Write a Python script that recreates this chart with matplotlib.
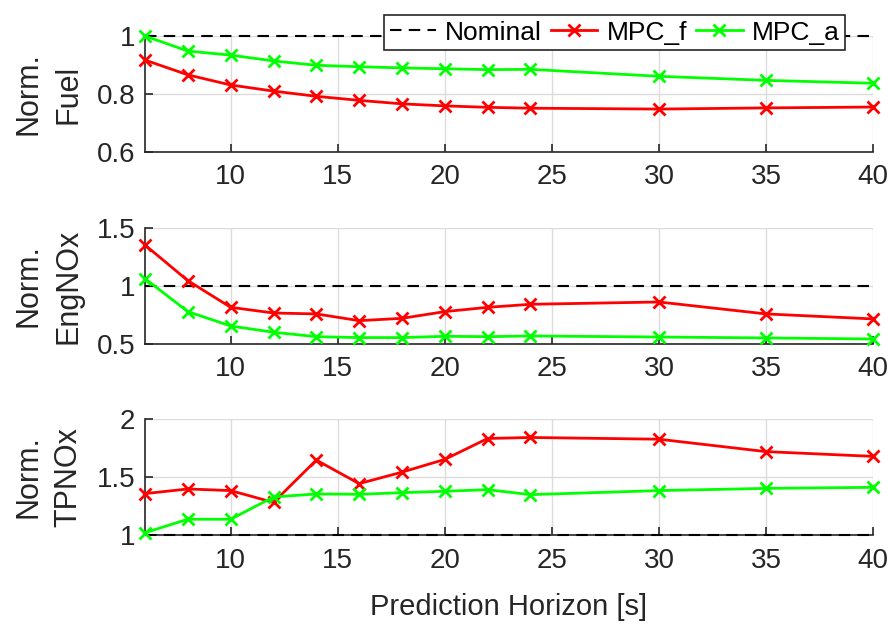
import matplotlib.pyplot as plt
from matplotlib.ticker import FuncFormatter

plt.rcParams['font.family'] = ['Liberation Sans', 'DejaVu Sans']

# prediction horizon values
horizon = [6, 8, 10, 12, 14, 16, 18, 20, 22, 24, 30, 35, 40]

# normalised fuel
fuel_f = [0.917, 0.866, 0.831, 0.810, 0.792, 0.778, 0.766, 0.759, 0.754, 0.751, 0.748, 0.752, 0.755]
fuel_a = [1.0, 0.948, 0.934, 0.914, 0.899, 0.894, 0.890, 0.887, 0.884, 0.885, 0.861, 0.847, 0.837]

# normalised engine NOx
eng_f = [1.353, 1.046, 0.816, 0.767, 0.759, 0.701, 0.721, 0.779, 0.816, 0.842, 0.862, 0.759, 0.716]
eng_a = [1.063, 0.779, 0.655, 0.601, 0.563, 0.555, 0.555, 0.566, 0.563, 0.569, 0.560, 0.552, 0.543]

# normalised tailpipe NOx
tp_f = [1.357, 1.397, 1.383, 1.281, 1.646, 1.443, 1.542, 1.652, 1.832, 1.841, 1.826, 1.719, 1.678]
tp_a = [1.02, 1.136, 1.136, 1.328, 1.354, 1.351, 1.365, 1.377, 1.391, 1.348, 1.383, 1.402, 1.411]

ylabels = ['Norm.\nFuel', 'Norm.\nEngNOx', 'Norm.\nTPNOx']
ylims = [(0.6, 1.0), (0.5, 1.5), (1.0, 2.0)]
yticks = [[0.6, 0.8, 1.0], [0.5, 1.0, 1.5], [1.0, 1.5, 2.0]]
series = [(fuel_f, fuel_a), (eng_f, eng_a), (tp_f, tp_a)]

fig = plt.figure(figsize=(8.92, 6.27), dpi=100)
left, width = 0.1626, 0.8161
bottoms = [0.7576, 0.4514, 0.1467]
height = 0.185

fmt = FuncFormatter(lambda v, p: '%g' % v)
dark = '#262626'

for i in range(3):
    ax = fig.add_axes([left, bottoms[i], width, height])
    yf, ya = series[i]
    ax.plot([horizon[0], horizon[-1]], [1, 1], color='k', ls=(0, (5.5, 3.5)), lw=1.5,
            label='Nominal', zorder=3, clip_on=False)
    ax.plot(horizon, yf, color=(1, 0, 0), lw=2, marker='x', ms=9, mew=2, label='MPC_f',
            zorder=4, clip_on=False)
    ax.plot(horizon, ya, color=(0, 1, 0), lw=2, marker='x', ms=9, mew=2, label='MPC_a',
            zorder=4, clip_on=False)
    ax.set_xlim(6, 40)
    ax.set_ylim(*ylims[i])
    ax.set_xticks([10, 15, 20, 25, 30, 35, 40])
    ax.set_yticks(yticks[i])
    ax.yaxis.set_major_formatter(fmt)
    ax.grid(True, color='#dcdcdc', lw=1)
    ax.set_axisbelow(True)
    for s in ['top', 'right']:
        ax.spines[s].set_visible(False)
    for s in ['left', 'bottom']:
        ax.spines[s].set_color(dark)
        ax.spines[s].set_linewidth(1.2)
    ax.tick_params(direction='in', length=6, width=1.2, labelsize=20, colors=dark)
    ax.tick_params(axis='x', pad=9)
    ax.tick_params(axis='y', pad=7)
    ax.set_ylabel(ylabels[i], fontsize=22, color=dark, linespacing=1.4)
    ax.yaxis.set_label_coords(-0.085, 0.5)
    ax.patch.set_visible(False)
    if i == 0:
        leg = ax.legend(loc='center right', bbox_to_anchor=(0.9615, 1.03), ncol=3, fontsize=19,
                        frameon=True, fancybox=False, edgecolor=dark, framealpha=1,
                        handlelength=1.75, handletextpad=0.35, columnspacing=0.35,
                        borderpad=0.2, borderaxespad=0)
        leg.get_frame().set_linewidth(1.2)
        leg.set_zorder(10)
    if i == 2:
        ax.set_xlabel('Prediction Horizon [s]', fontsize=21, color=dark, labelpad=14)

fig.savefig('out.png', dpi=100)
